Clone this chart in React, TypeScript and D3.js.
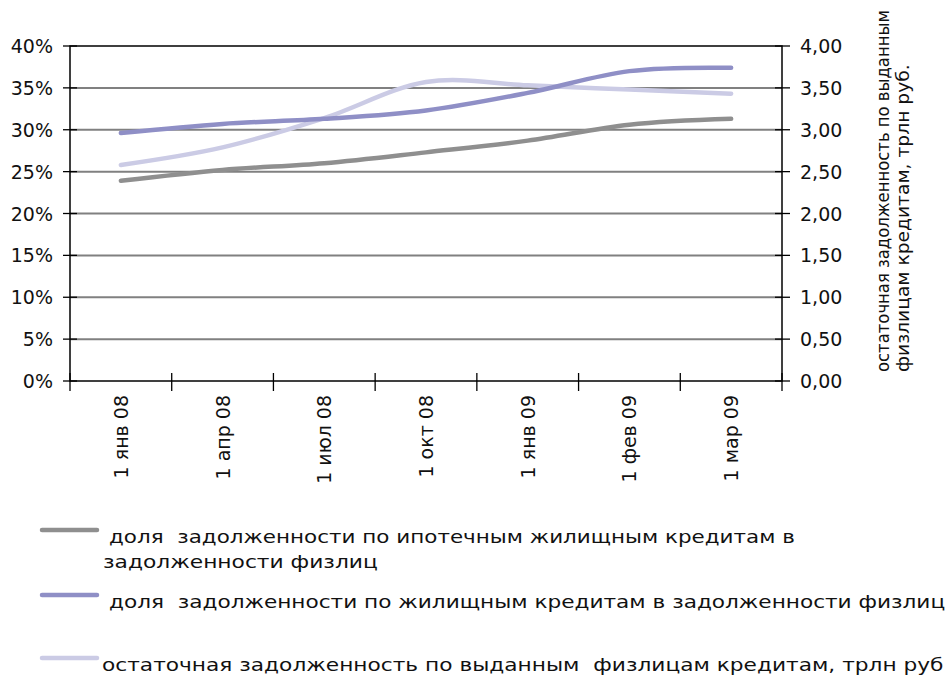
import * as React from 'react'
import { useEffect, useRef } from 'react'
import * as d3 from 'd3'

const categories = ['1 янв 08', '1 апр 08', '1 июл 08', '1 окт 08', '1 янв 09', '1 фев 09', '1 мар 09']
const mortgageShare = [0.239, 0.252, 0.260, 0.273, 0.287, 0.306, 0.313]
const housingShare = [0.296, 0.307, 0.313, 0.323, 0.344, 0.370, 0.374]
const totalDebt = [2.58, 2.79, 3.14, 3.57, 3.53, 3.48, 3.43]
const leftTicks = [0, 0.05, 0.1, 0.15, 0.2, 0.25, 0.3, 0.35, 0.4]
const rightTicks = [0, 0.5, 1, 1.5, 2, 2.5, 3, 3.5, 4]

const legendItems = [
  { color: '#8f8f8f', lines: ['доля  задолженности по ипотечным жилищным кредитам в', 'задолженности физлиц'] },
  { color: '#8f8fc6', lines: ['доля  задолженности по жилищным кредитам в задолженности физлиц'] },
  { color: '#cbcbe5', lines: ['остаточная задолженность по выданным  физлицам кредитам, трлн руб'] },
]

const W = 949
const H = 675
const font = 'DejaVu Sans, sans-serif'

const App = () => {
  const ref = useRef<SVGSVGElement | null>(null)

  useEffect(() => {
    const svg = d3.select(ref.current)
    svg.selectAll('*').remove()

    const left = 70, right = 782, top = 46, bottom = 381

    const x = d3.scaleBand().domain(categories).range([left, right])
    const yL = d3.scaleLinear().domain([0, 0.4]).range([bottom, top])
    const yR = d3.scaleLinear().domain([0, 4]).range([bottom, top])

    // stretch a text horizontally so that it is as long as in the picture
    const fitText = (t: d3.Selection<SVGTextElement, unknown, null, undefined>, base: string, len: number) => {
      const natural = (t.node() as SVGTextElement).getComputedTextLength()
      t.attr('transform', `${base} scale(${len / natural},1)`)
    }

    // gridlines
    svg.append('g').selectAll('line')
      .data(leftTicks.slice(1, -1))
      .enter().append('line')
      .attr('x1', left).attr('x2', right)
      .attr('y1', d => yL(d)).attr('y2', d => yL(d))
      .attr('stroke', '#808080').attr('stroke-width', 2)

    // border
    svg.append('rect')
      .attr('x', left).attr('y', top)
      .attr('width', right - left).attr('height', bottom - top)
      .attr('fill', 'none').attr('stroke', '#000').attr('stroke-width', 1.5)

    // left axis
    const gL = svg.append('g').attr('transform', `translate(${left},0)`)
    gL.selectAll('line').data(leftTicks).enter().append('line')
      .attr('x1', -7).attr('x2', 7)
      .attr('y1', d => yL(d)).attr('y2', d => yL(d))
      .attr('stroke', '#000').attr('stroke-width', 1.3)
    gL.selectAll('text').data(leftTicks).enter().append('text')
      .attr('x', -17).attr('y', d => yL(d) + 7)
      .attr('text-anchor', 'end')
      .attr('font-family', font).attr('font-size', 19).attr('fill', '#111')
      .text(d => d3.format('.0%')(d))

    // right axis
    const gR = svg.append('g').attr('transform', `translate(${right},0)`)
    gR.selectAll('line').data(rightTicks).enter().append('line')
      .attr('x1', -7).attr('x2', 8)
      .attr('y1', d => yR(d)).attr('y2', d => yR(d))
      .attr('stroke', '#000').attr('stroke-width', 1.3)
    gR.selectAll('text').data(rightTicks).enter().append('text')
      .attr('x', 18).attr('y', d => yR(d) + 7)
      .attr('font-family', font).attr('font-size', 19).attr('fill', '#111')
      .text(d => d3.format('.2f')(d).replace('.', ','))

    // right axis title
    const titleLines = [
      { t: 'остаточная задолженность по выданным', x: 889, len: 362 },
      { t: 'физлицам кредитам, трлн руб.', x: 909, len: 308 },
    ]
    titleLines.forEach(l => {
      const t = svg.append('text')
        .attr('font-family', font).attr('font-size', 17).attr('fill', '#111')
        .text(l.t)
      fitText(t, `translate(${l.x},372) rotate(-90)`, l.len)
    })

    // x axis ticks
    const edges = categories.map(c => x(c) as number).concat([right])
    svg.append('g').selectAll('line').data(edges).enter().append('line')
      .attr('x1', d => d).attr('x2', d => d)
      .attr('y1', bottom - 8).attr('y2', bottom + 10)
      .attr('stroke', '#000').attr('stroke-width', 1.3)
    svg.append('g').selectAll('text').data(categories).enter().append('text')
      .attr('transform', d => `translate(${(x(d) as number) + x.bandwidth() / 2 + 7},395) rotate(-90)`)
      .attr('text-anchor', 'end')
      .attr('font-family', font).attr('font-size', 19).attr('fill', '#111')
      .text(d => d)

    // series
    const cx = (i: number) => (x(categories[i]) as number) + x.bandwidth() / 2
    const lineL = d3.line<number>().x((_, i) => cx(i)).y(d => yL(d)).curve(d3.curveCatmullRom.alpha(0))
    const lineR = d3.line<number>().x((_, i) => cx(i)).y(d => yR(d)).curve(d3.curveCatmullRom.alpha(0))

    const series = [
      { data: totalDebt, gen: lineR, color: legendItems[2].color },
      { data: mortgageShare, gen: lineL, color: legendItems[0].color },
      { data: housingShare, gen: lineL, color: legendItems[1].color },
    ]
    series.forEach(s => {
      svg.append('path')
        .attr('d', s.gen(s.data) as string)
        .attr('fill', 'none').attr('stroke', s.color)
        .attr('stroke-width', 4.5).attr('stroke-linecap', 'round')
    })

    // legend
    const legendY = [530, 595, 658]
    const textX = [109, 109, 102]
    const textLens = [[686, 275], [837], [842]]
    legendItems.forEach((item, i) => {
      const g = svg.append('g')
      g.append('line')
        .attr('x1', 42).attr('x2', 97)
        .attr('y1', legendY[i]).attr('y2', legendY[i])
        .attr('stroke', item.color).attr('stroke-width', 4.5).attr('stroke-linecap', 'round')
      item.lines.forEach((s, j) => {
        const t = g.append('text')
          .attr('font-family', font).attr('font-size', 17).attr('fill', '#111')
          .style('white-space', 'pre')
          .text(s)
        fitText(t, `translate(${j === 0 ? textX[i] : 103},${legendY[i] + 13 + j * 25})`, textLens[i][j])
      })
    })
  }, [])

  return (
    <svg ref={ref} width={W} height={H} style={{ position: 'absolute', left: 0, top: 0, background: '#fff' }} />
  )
}

export default App
